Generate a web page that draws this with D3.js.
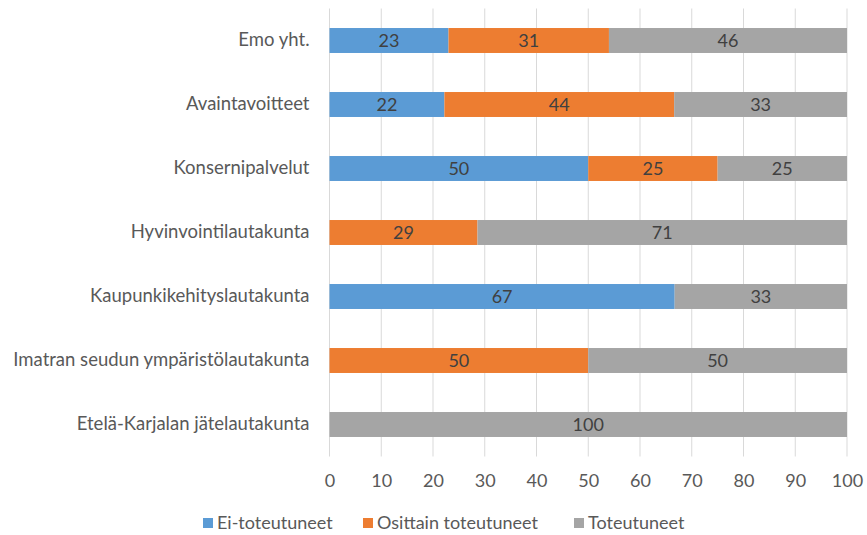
<!DOCTYPE html>
<head>
  <meta charset="utf-8" />
  <title>Toteutuminen</title>
  <style>
    body { margin: 0; background: #fff; }
    text { font-family: Lato, "Open Sans", sans-serif; }
  </style>
</head>
<body>
  <script src="https://cdn.jsdelivr.net/npm/d3@7"></script>
  <script>
    // categories top to bottom
    var categories = [
      "Emo yht.",
      "Avaintavoitteet",
      "Konsernipalvelut",
      "Hyvinvointilautakunta",
      "Kaupunkikehityslautakunta",
      "Imatran seudun ympäristölautakunta",
      "Etelä-Karjalan jätelautakunta"
    ];
    var seriesNames = ["Ei-toteutuneet", "Osittain toteutuneet", "Toteutuneet"];
    // percentages (labels are rounded)
    var eiToteutuneet = [23, 22.2, 50, 0, 66.7, 0, 0];
    var osittain = [31, 44.4, 25, 28.6, 0, 50, 0];
    var toteutuneet = [46, 33.4, 25, 71.4, 33.3, 50, 100];
    var xTicks = [0, 10, 20, 30, 40, 50, 60, 70, 80, 90, 100];
    var colors = ["#5b9bd5", "#ed7d31", "#a5a5a5"];

    var W = 867, H = 535;
    var plotL = 329.5, plotR = 847, plotT = 8.5, plotB = 456.5;
    var fs = "18px";

    var rows = categories.map(function (c, i) {
      return { cat: c, s0: eiToteutuneet[i], s1: osittain[i], s2: toteutuneet[i] };
    });
    var stack = d3.stack().keys(["s0", "s1", "s2"])(rows);

    var x = d3.scaleLinear().domain([0, 100]).range([plotL, plotR]);
    var y = d3.scaleBand().domain(categories).range([plotT, plotB]).paddingInner(0.61).paddingOuter(0.305);

    var svg = d3.select("body").append("svg")
      .attr("width", W).attr("height", H);

    // gridlines
    svg.append("g").selectAll("line").data(xTicks).enter().append("line")
      .attr("x1", function (d) { return x(d); })
      .attr("x2", function (d) { return x(d); })
      .attr("y1", plotT).attr("y2", plotB)
      .attr("stroke", "#d9d9d9").attr("stroke-width", 1);

    // x axis labels
    var xAxis = d3.axisBottom(x).tickValues(xTicks).tickSize(0).tickPadding(0);
    var gx = svg.append("g").attr("transform", "translate(0,481)").call(xAxis);
    gx.select(".domain").remove();
    gx.selectAll("text").attr("dy", "0.36em").attr("fill", "#595959")
      .style("font-size", fs).style("font-family", "Lato, sans-serif");

    // y axis labels
    var yAxis = d3.axisLeft(y).tickSize(0).tickPadding(20);
    var gy = svg.append("g").attr("transform", "translate(" + plotL + ",0)").call(yAxis);
    gy.select(".domain").remove();
    gy.selectAll("text").attr("fill", "#595959")
      .style("font-size", "18.5px").style("font-family", "Lato, sans-serif");

    // bars
    var layers = svg.append("g").selectAll("g").data(stack).enter().append("g")
      .attr("fill", function (d, i) { return colors[i]; });
    layers.selectAll("rect").data(function (d) { return d; }).enter().append("rect")
      .attr("x", function (d) { return x(d[0]); })
      .attr("width", function (d) { return x(d[1]) - x(d[0]); })
      .attr("y", function (d) { return y(d.data.cat); })
      .attr("height", y.bandwidth());

    // value labels
    layers.selectAll("text").data(function (d) { return d.filter(function (v) { return v[1] - v[0] > 0; }); })
      .enter().append("text")
      .attr("x", function (d) { return (x(d[0]) + x(d[1])) / 2; })
      .attr("y", function (d) { return y(d.data.cat) + y.bandwidth() / 2; })
      .attr("dy", "0.36em")
      .attr("text-anchor", "middle")
      .attr("fill", "#404040")
      .style("font-size", fs)
      .text(function (d) { return Math.round(d[1] - d[0]); });

    // legend
    var legendX = [203, 363, 574];
    var lg = svg.append("g").selectAll("g").data(seriesNames).enter().append("g")
      .attr("transform", function (d, i) { return "translate(" + legendX[i] + ",523)"; });
    lg.append("rect").attr("x", 0).attr("y", -5).attr("width", 10).attr("height", 10)
      .attr("fill", function (d, i) { return colors[i]; });
    lg.append("text").attr("x", 14).attr("dy", "0.36em")
      .attr("fill", "#595959").style("font-size", fs)
      .text(function (d) { return d; });
  </script>
</body>
